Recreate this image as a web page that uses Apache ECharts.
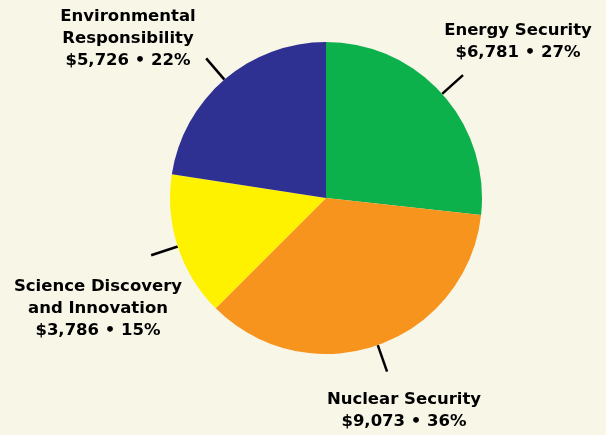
<!DOCTYPE html>
<html>
<head>
<meta charset="utf-8">
<script src="https://cdn.jsdelivr.net/npm/echarts@6/dist/echarts.min.js"></script>
<style>
html,body{margin:0;padding:0;background:#f8f6e7;}
#chart{width:606px;height:435px;}
</style>
</head>
<body>
<div id="chart"></div>
<script>
const categories = ['Energy Security', 'Nuclear Security', 'Science Discovery\nand Innovation', 'Environmental\nResponsibility'];
const values = [6781, 9073, 3786, 5726];
const colors = ['#0db14b', '#f7941e', '#fff200', '#2e3192'];
// label block centres (layout only)
const labelPos = [[518, 42], [404, 411], [98, 309], [128, 39]];

const chart = echarts.init(document.getElementById('chart'), null, {renderer: 'canvas'});
chart.setOption({
  backgroundColor: '#f8f6e7',
  animation: false,
  series: [{
    type: 'pie',
    center: [326, 198],
    radius: 156,
    startAngle: 90,
    clockwise: true,
    percentPrecision: 0,
    avoidLabelOverlap: false,
    data: categories.map((c, i) => ({name: c, value: values[i], itemStyle: {color: colors[i]}})),
    itemStyle: {borderWidth: 0},
    label: {
      show: true,
      position: 'outside',
      color: '#000',
      fontFamily: 'DejaVu Sans, Liberation Sans, sans-serif',
      fontWeight: 'bold',
      fontSize: 16.5,
      lineHeight: 22,
      align: 'center',
      formatter: p => p.name + '\n$' + p.value.toLocaleString('en-US') + ' \u2022 ' + p.percent + '%'
    },
    labelLine: {
      show: true,
      length: 28,
      length2: 0,
      lineStyle: {color: '#000', width: 2.5}
    },
    labelLayout: function (params) {
      const pos = labelPos[params.dataIndex];
      return {
        x: pos[0],
        y: pos[1],
        align: 'center',
        verticalAlign: 'middle',
        labelLinePoints: params.labelLinePoints
      };
    },
    emphasis: {disabled: true}
  }]
});
</script>
</body>
</html>
